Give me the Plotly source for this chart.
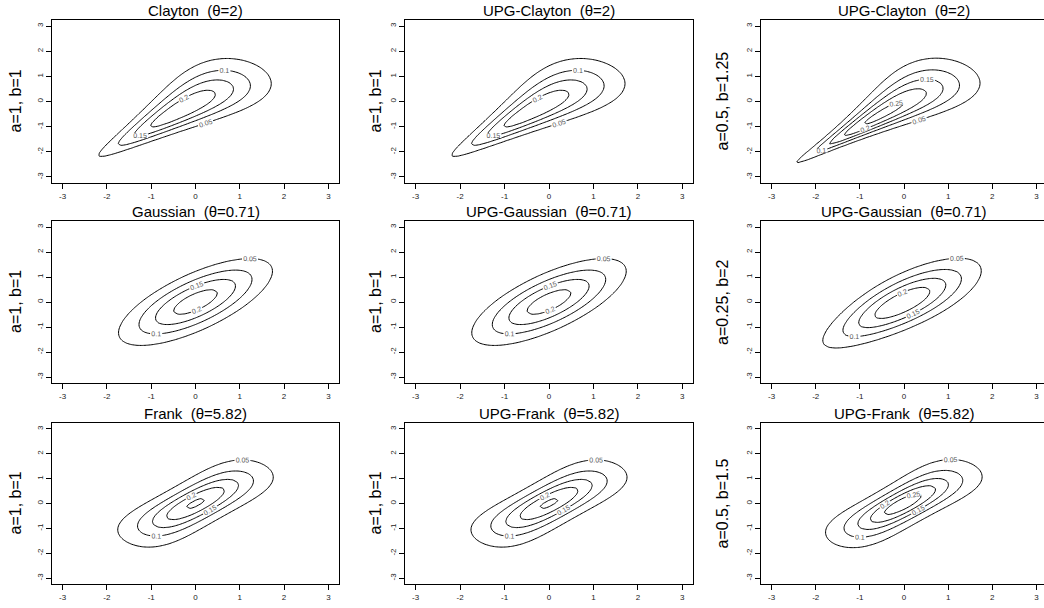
import numpy as np, math
import plotly.graph_objects as go

# ---------------- chart data ----------------
families = ["Clayton", "Gaussian", "Frank"]
theta_labels = ["2", "0.71", "5.82"]
thetas = [2.0, 0.71, 5.82]
col_prefix = ["", "UPG-", "UPG-"]
a_vals = [[1, 1, 0.5], [1, 1, 0.25], [1, 1, 0.5]]      # per row, per column
b_vals = [[1, 1, 1.25], [1, 1, 2], [1, 1, 1.5]]
ab_text = [["a=1, b=1", "a=1, b=1", "a=0.5, b=1.25"],
           ["a=1, b=1", "a=1, b=1", "a=0.25, b=2"],
           ["a=1, b=1", "a=1, b=1", "a=0.5, b=1.5"]]
levels_start, levels_end, levels_step = 0.05, 0.5, 0.05
tick_vals = [-3, -2, -1, 0, 1, 2, 3]
tick_text = ["-3", "-2", "-1", "0", "1", "2", "3"]
grid_lo, grid_hi, grid_n = -3.0, 3.0, 51

# ---------------- numerics ----------------
_erfc = np.vectorize(math.erfc, otypes=[float])
SQ2 = math.sqrt(2.0)
def Phi(x): return 0.5*_erfc(-np.asarray(x, float)/SQ2)
def npdf(x): return np.exp(-0.5*x*x)/math.sqrt(2*math.pi)
A_=[-3.969683028665376e+01,2.209460984245205e+02,-2.759285104469687e+02,1.383577518672690e+02,-3.066479806614716e+01,2.506628277459239e+00]
B_=[-5.447609879822406e+01,1.615858368580409e+02,-1.556989798598866e+02,6.680131188771972e+01,-1.328068155288572e+01]
C_=[-7.784894002430293e-03,-3.223964580411365e-01,-2.400758277161838e+00,-2.549732539343734e+00,4.374664141464968e+00,2.938163982698783e+00]
D_=[7.784695709041462e-03,3.224671290700398e-01,2.445134137142996e+00,3.754408661907416e+00]
def _lower_inv(q):
    q=np.maximum(np.asarray(q,float),1e-300); z=np.empty_like(q)
    lo=q<0.02425
    t=np.sqrt(-2*np.log(q[lo]))
    z[lo]=(((((C_[0]*t+C_[1])*t+C_[2])*t+C_[3])*t+C_[4])*t+C_[5])/((((D_[0]*t+D_[1])*t+D_[2])*t+D_[3])*t+1)
    m=~lo; r0=q[m]-0.5; r=r0*r0
    z[m]=(((((A_[0]*r+A_[1])*r+A_[2])*r+A_[3])*r+A_[4])*r+A_[5])*r0/(((((B_[0]*r+B_[1])*r+B_[2])*r+B_[3])*r+B_[4])*r+1)
    for _ in range(2):
        e=Phi(z)-q; uu=e*math.sqrt(2*math.pi)*np.exp(0.5*z*z); z=z-uu/(1+z*uu/2)
    return z
def Phi_inv(p,pb):
    q=np.minimum(p,pb); z=_lower_inv(q); return np.where(p<0.5,z,-z)

def biv_lower(xs,ys,rho):
    sig=math.sqrt(1-rho*rho); s=np.linspace(-16,10,2601); ns=npdf(s)
    F=Phi((ys[None,:]-rho*s[:,None])/sig)*ns[:,None]
    cum=np.concatenate([np.zeros((1,len(ys))),np.cumsum(0.5*(F[1:]+F[:-1])*(s[1]-s[0]),axis=0)])
    out=np.empty((len(xs),len(ys)))
    for j in range(len(ys)): out[:,j]=np.interp(xs,s,cum[:,j])
    return out

def gauss_cop(rho):
    sig=math.sqrt(1-rho*rho)
    def f(u,ub,v,vb):
        x=Phi_inv(u,ub); y=Phi_inv(v,vb); X=x[:,None]; Y=y[None,:]
        low=biv_lower(x,y,rho); upp=biv_lower(-x,-y,rho)
        Cb2=Phi(-x)[:,None]+Phi(-y)[None,:]-upp
        C=np.where(low<0.5,low,1-Cb2); Cb=np.where(low<0.5,1-low,Cb2)
        C1=Phi((Y-rho*X)/sig); C2=Phi((X-rho*Y)/sig)
        c=np.exp(-(rho*rho*(X*X+Y*Y)-2*rho*X*Y)/(2*sig*sig))/sig
        return C,Cb,C1,C2,c
    return f
def clayton_cop(th):
    def f(u,ub,v,vb):
        lu=np.where(u<0.5,np.log(u),np.log1p(-ub)); lv=np.where(v<0.5,np.log(v),np.log1p(-vb))
        U=lu[:,None]; V=lv[None,:]
        S=np.expm1(-th*U)+np.expm1(-th*V); lg=np.log1p(S)
        C=np.exp(-lg/th); Cb=-np.expm1(-lg/th)
        C1=np.exp((-th-1)*U-(1/th+1)*lg); C2=np.exp((-th-1)*V-(1/th+1)*lg)
        c=(1+th)*np.exp((-th-1)*(U+V)-(1/th+2)*lg)
        return C,Cb,C1,C2,c
    return f
def frank_cop(th):
    em=np.expm1(-th)
    def f(u,ub,v,vb):
        U=u[:,None]; V=v[None,:]
        eu=np.expm1(-th*U); ev=np.expm1(-th*V)
        C=-np.log1p(eu*ev/em)/th; Cb=1-C
        den=em+eu*ev
        C1=np.exp(-th*U)*ev/den; C2=np.exp(-th*V)*eu/den
        c=-th*em*np.exp(-th*(U+V))/den**2
        return C,Cb,C1,C2,c
    return f

def density(cop, a, b, x):
    # lower-tail power distortion; identity when a=b=1
    d = a*math.log(b)
    u=Phi(x); ub=Phi(-x)
    nx = npdf(x)
    if d <= 0:
        c0 = cop(u,ub,u,ub)[4]
        return c0*nx[:,None]*nx[None,:]
    w=np.expm1(-d*np.log(u))/d
    up=np.maximum(np.exp(-w),1e-300); upb=-np.expm1(-w)
    dphi=up*u**(-d-1)
    C,Cb,C1,C2,c0=cop(up,upb,up,upb)
    C=np.maximum(C,1e-300)
    ell=np.where(C<0.5,-np.log(C),-np.log1p(-Cb))
    q=1+d*ell
    d1=q**(-1/d-1)/C
    d2=q**(-1/d-2)*d*(1-ell)/C**2
    cc=dphi[:,None]*dphi[None,:]*(d2*C1*C2+d1*c0)
    return np.nan_to_num(cc*nx[:,None]*nx[None,:])

makers = {"Clayton": clayton_cop, "Gaussian": gauss_cop, "Frank": frank_cop}
grid = np.linspace(grid_lo, grid_hi, grid_n)

# ---------------- layout geometry (pixels) ----------------
W, H = 1044, 608
col_px = [(52, 339), (405, 693), (761, 1044)]
col_rng = [[-3.24, 3.24], [-3.24, 3.24], [-3.24, 3.172]]
row_px = [(20, 183), (221, 383), (423, 584)]
title_y = [11, 212, 413]
ylab_x = [15, 375, 722]

fig = go.Figure()
layout = dict(width=W, height=H, autosize=False, margin=dict(l=0, r=0, t=0, b=0),
              paper_bgcolor="white", plot_bgcolor="white", showlegend=False,
              font=dict(family="Liberation Sans, Arial, sans-serif", color="black"))
annotations = []
for r, fam in enumerate(families):
    cop = makers[fam](thetas[r])
    for c in range(3):
        k = r*3 + c + 1
        xa = "x" if k == 1 else "x%d" % k
        ya = "y" if k == 1 else "y%d" % k
        z = density(cop, a_vals[r][c], b_vals[r][c], grid)
        fig.add_trace(go.Contour(
            x=grid, y=grid, z=z.T, xaxis=xa, yaxis=ya,
            contours=dict(start=levels_start, end=levels_end, size=levels_step,
                          coloring="none", showlabels=True,
                          labelfont=dict(size=7, color="#555", family="Liberation Sans, Arial")),
            line=dict(color="black", width=1, smoothing=0.6),
            showscale=False, hoverinfo="skip"))
        x0, x1 = col_px[c]; y0, y1 = row_px[r]
        layout["xaxis" if k == 1 else "xaxis%d" % k] = dict(
            domain=[x0/W, x1/W], range=col_rng[c], anchor=ya,
            tickvals=tick_vals, ticktext=tick_text, ticks="outside", ticklen=5,
            tickcolor="black", tickwidth=1, showline=True, linecolor="black", linewidth=1,
            mirror=True, showgrid=False, zeroline=False,
            tickfont=dict(size=8, color="#222"))
        layout["yaxis" if k == 1 else "yaxis%d" % k] = dict(
            domain=[1-y1/H, 1-y0/H], range=[-3.24, 3.24], anchor=xa,
            tickvals=tick_vals, ticktext=tick_text, ticks="outside", ticklen=5,
            tickcolor="black", tickwidth=1, showline=True, linecolor="black", linewidth=1,
            mirror=(c < 2), showgrid=False, zeroline=False, tickangle=-90,
            tickfont=dict(size=8, color="#222"))
        annotations.append(dict(
            text=col_prefix[c] + fam + "\u00a0\u00a0(θ=" + theta_labels[r] + ")",
            x=(x0 + min(x1, 1047) + (3 if c == 2 else 0))/2/W, y=1-title_y[r]/H,
            xref="paper", yref="paper", showarrow=False, xanchor="center", yanchor="middle",
            font=dict(size=15, color="black")))
        annotations.append(dict(
            text=ab_text[r][c], x=ylab_x[c]/W, y=1-(y0+y1)/2/H, textangle=-90,
            xref="paper", yref="paper", showarrow=False, xanchor="center", yanchor="middle",
            font=dict(size=16, color="black")))
layout["annotations"] = annotations
fig.update_layout(**layout)
fig.write_html("out.html", config={"displayModeBar": False})
